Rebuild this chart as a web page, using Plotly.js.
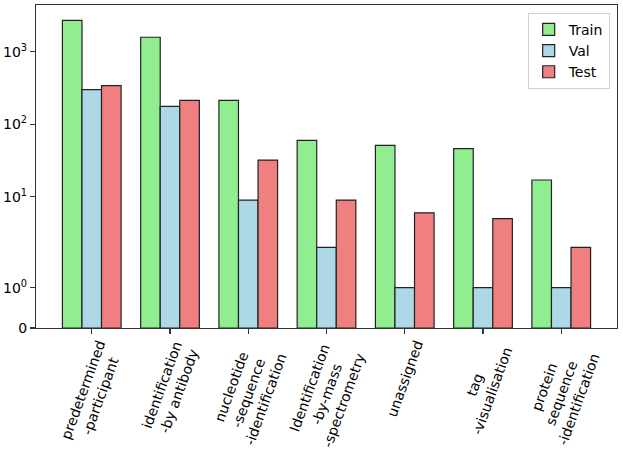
<!DOCTYPE html>
<html>
<head>
<meta charset="utf-8">
<script src="https://cdn.plot.ly/plotly-3.0.1.min.js"></script>
<style>html,body{margin:0;padding:0;background:#fff;}#chart{width:623px;height:457px;}</style>
</head>
<body>
<div id="chart"></div>
<script>
// ---- data ----
const categories = [
  "predetermined\n-participant",
  "identification\n-by antibody",
  "nucleotide\n-sequence\n-identification",
  "Identification\n-by-mass\n-spectrometry",
  "unassigned",
  "tag\n-visualisation",
  "protein\nsequence\n-identification"
];
const trainValues = [2700, 1580, 213, 60, 51, 46, 17];
const valValues   = [300, 176, 9, 2, 1, 1, 1];
const testValues  = [340, 213, 32, 9, 6, 5, 2];
const yTickValues = [0, 1, 10, 100, 1000];
const yTickLabels = ["0", "10<sup>0</sup>", "10<sup>1</sup>", "10<sup>2</sup>", "10<sup>3</sup>"];

// symlog transform (base 10, linthresh 2, linscale 1), like matplotlib's
const LINTHRESH = 2, LINSCALE = 1, BASE = 10;
const ADJ = LINSCALE / (1 - 1 / BASE);
function symlog(v) {
  const a = Math.abs(v), s = Math.sign(v);
  if (a <= LINTHRESH) return v * ADJ;
  return s * LINTHRESH * (ADJ + Math.log(a / LINTHRESH) / Math.log(BASE));
}

const keys = categories.map(c => c.replace(/\n/g, " "));
const edge = {color: "#222", width: 1.2};
const font = {family: "DejaVu Sans, sans-serif", size: 14, color: "#000"};

function mk(name, vals, color) {
  return {
    type: "bar", name: name, x: keys, y: vals.map(symlog),
    customdata: vals, hovertemplate: "%{customdata}<extra>" + name + "</extra>",
    marker: {color: color, line: edge}
  };
}
const traces = [
  mk("Train", trainValues, "#90EE90"),
  mk("Val", valValues, "#ADD8E6"),
  mk("Test", testValues, "#F08080")
];

const ymax = Math.max(...trainValues, ...valValues, ...testValues);
const annotations = categories.map((c, i) => ({
  x: keys[i], y: 0, xref: "x", yref: "paper",
  text: c.replace(/\n/g, "<br>"), showarrow: false,
  textangle: -70, xanchor: "center", yanchor: "top", align: "center",
  yshift: -8, font: font
}));

const layout = {
  width: 623, height: 457,
  margin: {l: 36, r: 6, t: 5, b: 129},
  paper_bgcolor: "#fff", plot_bgcolor: "#fff",
  font: font,
  barmode: "group", bargap: 0.25, bargroupgap: 0,
  showlegend: true,
  legend: {x: 0.9874, y: 0.976, xanchor: "right", yanchor: "top",
           bgcolor: "rgba(255,255,255,0.8)", bordercolor: "#d0d0d0", borderwidth: 1,
           font: font, itemwidth: 30, traceorder: "normal"},
  xaxis: {type: "category", range: [-0.7125, categories.length - 1 + 0.7125],
          showline: true, linecolor: "#333", linewidth: 1.1, mirror: true,
          ticks: "outside", ticklen: 5, tickwidth: 1.1, tickcolor: "#333",
          showticklabels: false, showgrid: false, zeroline: false, fixedrange: true},
  yaxis: {type: "linear", range: [0, 1.05 * symlog(ymax)],
          tickvals: yTickValues.map(symlog), ticktext: yTickLabels,
          showline: true, linecolor: "#333", linewidth: 1.1, mirror: true,
          ticks: "outside", ticklen: 5, tickwidth: 1.1, tickcolor: "#333",
          tickfont: font, showgrid: false, zeroline: false, fixedrange: true},
  annotations: annotations
};

Plotly.newPlot("chart", traces, layout, {displayModeBar: false, staticPlot: true});
</script>
</body>
</html>
